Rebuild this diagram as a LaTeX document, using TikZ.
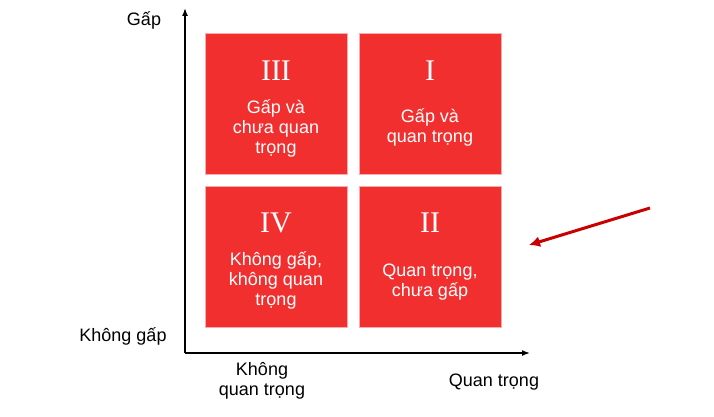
\documentclass[tikz,border=0pt]{standalone}
\usepackage{fontspec}
\setmainfont{Liberation Sans}
\newfontfamily\numfont{Liberation Serif}
\usetikzlibrary{arrows.meta}
\definecolor{boxred}{HTML}{F22F2F}
\definecolor{arrred}{HTML}{C80000}
\begin{document}
\begin{tikzpicture}[x=1pt,y=-1pt,
  quad/.style={fill=boxred,draw=boxred!40,line width=0.6pt,minimum width=142pt,minimum height=141pt,anchor=north west,inner sep=0pt},
  qtxt/.style={text=white,align=center,font=\fontsize{18}{20}\selectfont},
  num/.style={text=white,font=\numfont\fontsize{30}{32}\selectfont},
  lab/.style={font=\fontsize{18}{20}\selectfont,align=center}]
\useasboundingbox (0,0) rectangle (714,417);
\node[quad] (q3) at (205,33) {};
\node[quad] (q1) at (359,33) {};
\node[quad] (q4) at (205,186) {};
\node[quad] (q2) at (359,186) {};
\node[num] (n3) at (276,71) {III};
\node[num] (n1) at (430,71) {I};
\node[num] (n4) at (276,223) {IV};
\node[num] (n2) at (430,223) {II};
\node[qtxt] (t3) at (276,128) {Gấp và\\chưa quan\\trọng};
\node[qtxt] (t1) at (430,127) {Gấp và\\quan trọng};
\node[qtxt] (t4) at (276,280) {Không gấp,\\không quan\\trọng};
\node[qtxt] (t2) at (430,282) {Quan trọng,\\chưa gấp};
\coordinate (o) at (185,353);
\coordinate (ytop) at (185,8);
\coordinate (xend) at (530,353);
\draw[line width=1.5pt,-{Latex[length=8pt,width=6pt]}] (o) -- (ytop);
\draw[line width=1.5pt,-{Latex[length=8pt,width=6pt]}] (o) -- (xend);
\node[lab] (gap) at (144,20) {Gấp};
\node[lab] (kg) at (123,336) {Không gấp};
\node[lab] (kqt) at (262,381) {Không\\quan trọng};
\node[lab] (qt) at (494,382) {Quan trọng};
\coordinate (a1) at (650,208);
\coordinate (a2) at (529,245);
\draw[arrred,line width=3pt,-{Latex[length=11pt,width=11pt]}] (a1) -- (a2);
\end{tikzpicture}
\end{document}
